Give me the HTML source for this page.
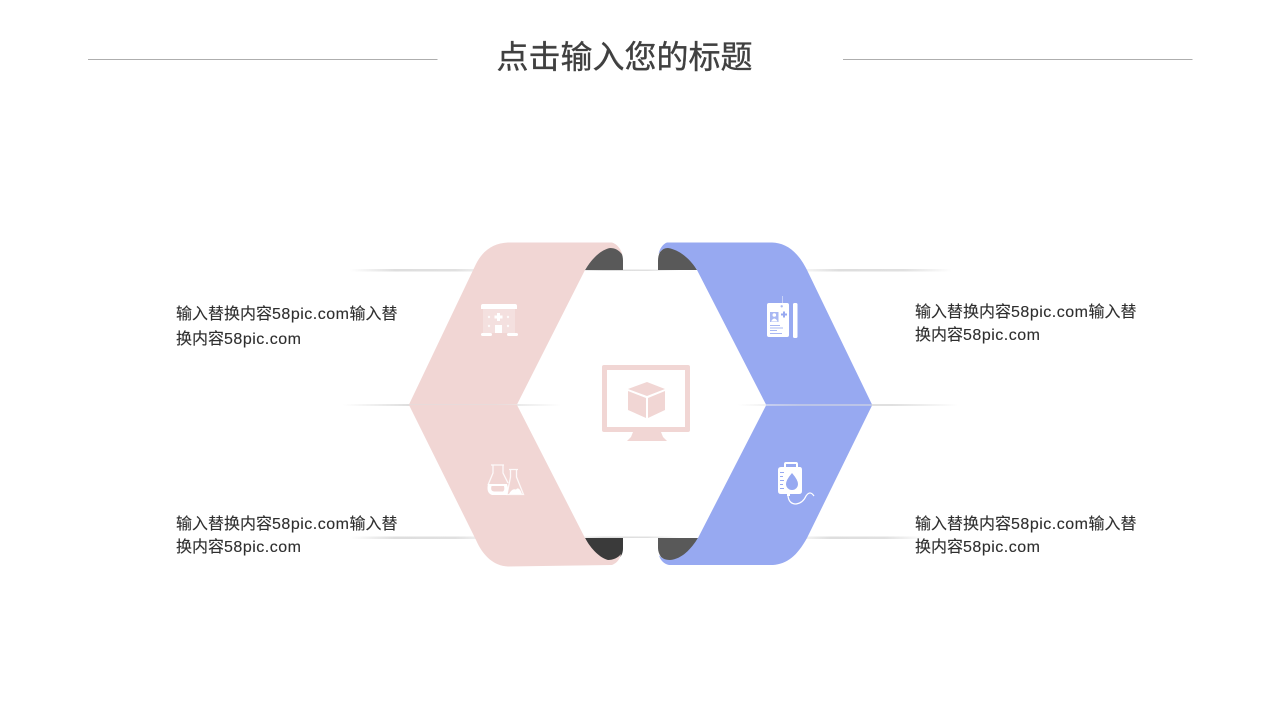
<!DOCTYPE html>
<html lang="zh">
<head>
<meta charset="utf-8">
<title>点击输入您的标题</title>
<style>
html,body{margin:0;padding:0;background:#fff;width:1280px;height:720px;overflow:hidden}
svg{display:block}
.t{font-family:"Liberation Sans","Noto Sans CJK SC",sans-serif;font-size:16px;fill:#2e2e2e;stroke:#2e2e2e;stroke-width:.12px}
.t tspan{letter-spacing:.5px}
.h{font-family:"Liberation Sans","Noto Sans CJK SC",sans-serif;font-size:32px;fill:#404040;stroke:#404040;stroke-width:.35px}
</style>
</head>
<body>
<svg width="1280" height="720" viewBox="0 0 1280 720" xmlns="http://www.w3.org/2000/svg">
<defs>
<linearGradient id="g"><stop offset="0" stop-color="#dedede" stop-opacity="0"/><stop offset=".3" stop-color="#dedede"/><stop offset=".7" stop-color="#e0e0e0"/><stop offset="1" stop-color="#dedede" stop-opacity="0"/></linearGradient>
</defs>

<!-- title -->
<rect x="88" y="59" width="349.500" height="1" fill="#aeaeae"/>
<rect x="843" y="59" width="349.500" height="1" fill="#aeaeae"/>
<text class="h" x="496.500" y="68">点击输入您的标题</text>

<!-- tapered lines -->
<g fill="url(#g)">
<rect x="350" y="269" width="150" height="2.500"/>
<rect x="570" y="269.500" width="110" height="1.500"/>
<rect x="790" y="269" width="162" height="2.500"/>
<rect x="343" y="404" width="218" height="2"/>
<rect x="738" y="404" width="220" height="2"/>
<rect x="350" y="536.500" width="150" height="2.500"/>
<rect x="570" y="536.500" width="110" height="1.500"/>
<rect x="790" y="536.500" width="135" height="2.500"/>
</g>

<!-- dark folds -->
<path d="M585,270 L600,246 L614,246 L621,252 C623,256 623,259 623,262 V270 Z" fill="#595959"/>
<path d="M697,270 L682,246 L666,246 L660,252 C658,256 658,259 658,262 V270 Z" fill="#595959"/>
<path d="M585,538 H623 V548 C623,552 622,555 620,557 L612,562 L598,562 Z" fill="#3a3a3a"/>
<path d="M698,538 H658 V548 C658,551 659,554 661,557 L668,562 L684,562 Z" fill="#595959"/>

<!-- pink ribbon -->
<path d="M409,404.500 L476,264 C483,250 494,243 508,242.500 L612,242.500 C617,244 621,249 622.500,255 C619,250 615,248 610,248 C600,250 591,260 585,270 L517,404.500 Z" fill="#f1d6d4"/>
<path d="M409,405 H517 L585,538 C591,549 600,558 608,560 C613,560 618,558 621,554 C620,559 617,563 612,565 L508,566.500 C494,566 483,556 476,540 Z" fill="#f1d6d4"/>

<!-- blue ribbon -->
<path d="M872,404.500 L807,270 C797,250 785,243 772,242.500 L667,242.500 C663,244 660,248 658.500,254 C661,250 664,248 668,248 C680,250 690,259 697,270 L766,404.500 Z" fill="#97a9f1"/>
<path d="M766,405.500 H872 L807,538 C797,556 787,564 773,565 H669 C664,564 660,560 659,555 C661,558 665,560 670,560 C682,559 691,549 698,538 Z" fill="#97a9f1"/>

<!-- monitor -->
<path fill-rule="evenodd" d="M604,365 H688 Q690,365 690,367 V430 Q690,432 688,432 H604 Q602,432 602,430 V367 Q602,365 604,365 Z M607,370 V427 H685 V370 Z" fill="#f1d6d4"/>
<path d="M633,432 H661 L663,437 L667,441 H627 L631,437 Z" fill="#f1d6d4"/>
<path d="M647,382 L665,389 L647,396 L628,389 Z" fill="#f1d6d4"/>
<path d="M628,391 L646,398 V418 L628,410 Z" fill="#f1d6d4"/>
<path d="M665,391 L648,398 V418 L665,410 Z" fill="#f1d6d4"/>

<!-- hospital icon -->
<rect x="483" y="309" width="32" height="24" fill="#fff" opacity=".25"/>
<g fill="#fff">
<path d="M483,304 H515 Q517,304 517,306 V309 H481 V306 Q481,304 483,304 Z"/>
<rect x="481" y="333" width="11" height="3" rx="1.500"/>
<rect x="507" y="333" width="11" height="3" rx="1.500"/>
<rect x="495" y="325" width="7" height="8"/>
<path d="M497,313 h3 v2.500 h2.500 v3 h-2.500 v2.500 h-3 v-2.500 h-2.500 v-3 h2.500 z"/>
<g opacity=".8"><circle cx="489" cy="317" r="1.200"/><circle cx="508" cy="317" r="1.200"/><circle cx="489" cy="326" r="1.200"/><circle cx="508" cy="326" r="1.200"/></g>
</g>

<!-- id card icon -->
<rect x="782" y="296" width="1" height="8" fill="#fff" opacity=".45"/>
<path fill="#fff" d="M769,303 H787 Q789,303 789,305 V335 Q789,337 787,337 H769 Q767,337 767,335 V305 Q767,303 769,303 Z"/>
<rect x="793" y="303" width="4.500" height="35" rx="1.500" fill="#fff"/>
<rect x="770" y="312" width="8.500" height="10" fill="#a9b8f3"/>
<circle cx="774.300" cy="315" r="1.800" fill="#fff"/>
<path d="M771,321.500 Q774.300,315.500 777.700,321.500 Z" fill="#fff"/>
<path d="M783,311.500 h2 v2 h2 v2 h-2 v2 h-2 v-2 h-2 v-2 h2 z" fill="#97a9f1"/>
<circle cx="781.700" cy="306.300" r="1.200" fill="#a9b8f3"/>
<g fill="#a9b8f3"><rect x="770" y="325" width="10" height="1"/><rect x="770" y="327.500" width="13" height="1"/><rect x="770" y="330" width="7" height="1"/><rect x="770" y="333" width="12" height="1"/></g>

<!-- flask icon -->
<g fill="none" stroke="#fff" stroke-width="1.300">
<path d="M491,465 H504 M493,465 V473 L488,485 M503,465 V473 L508,483" opacity=".85"/>
<path d="M509,469.500 H518 M510.500,469.500 V477 L507,494.500 H523.500 L516.500,477 V469.500" opacity=".85"/>
</g>
<path d="M488,484 H507 Q509,490 507,495 H492 Q486,493 488,484 Z M491.500,486 Q490,491 494,491.500 H503 Q505,490 504,486 Z" fill="#fff" fill-rule="evenodd"/>
<path d="M509,494 Q512,488 516,489.500 Q519,486 522,494 Z" fill="#fff"/>

<!-- IV bag icon -->
<g fill="#fff">
<path fill-rule="evenodd" d="M786,462 H796 Q798,462 798,464 V467 H800 Q802,467 802,470 V491 Q802,494 799,494 H781 Q778,494 778,491 V470 Q778,467 781,467 H784 V464 Q784,462 786,462 Z M786,464 V467 H796 V464 Z"/>
<path d="M792,473 Q798,480 798,484 A6,6 0 0 1 786,484 Q786,480 792,473 Z" fill="#97a9f1"/>
<g fill="#97a9f1"><rect x="780" y="472" width="4" height="1"/><rect x="780" y="476" width="3" height="1"/><rect x="780" y="480" width="4" height="1"/><rect x="780" y="484" width="3" height="1"/><rect x="780" y="488" width="4" height="1"/></g>
<rect x="787" y="494" width="3" height="2"/>
</g>
<path d="M788,496 Q789,504 796,504 Q803,503 806,496 Q810,490 814,496" fill="none" stroke="#fff" stroke-width="1.200"/>

<!-- text -->
<text class="t" x="176" y="319">输入替换内容<tspan>58pic.com</tspan>输入替</text>
<text class="t" x="176" y="344">换内容<tspan>58pic.com</tspan></text>
<text class="t" x="915" y="317">输入替换内容<tspan>58pic.com</tspan>输入替</text>
<text class="t" x="915" y="340">换内容<tspan>58pic.com</tspan></text>
<text class="t" x="176" y="529">输入替换内容<tspan>58pic.com</tspan>输入替</text>
<text class="t" x="176" y="552">换内容<tspan>58pic.com</tspan></text>
<text class="t" x="915" y="529">输入替换内容<tspan>58pic.com</tspan>输入替</text>
<text class="t" x="915" y="552">换内容<tspan>58pic.com</tspan></text>
</svg>
</body>
</html>
